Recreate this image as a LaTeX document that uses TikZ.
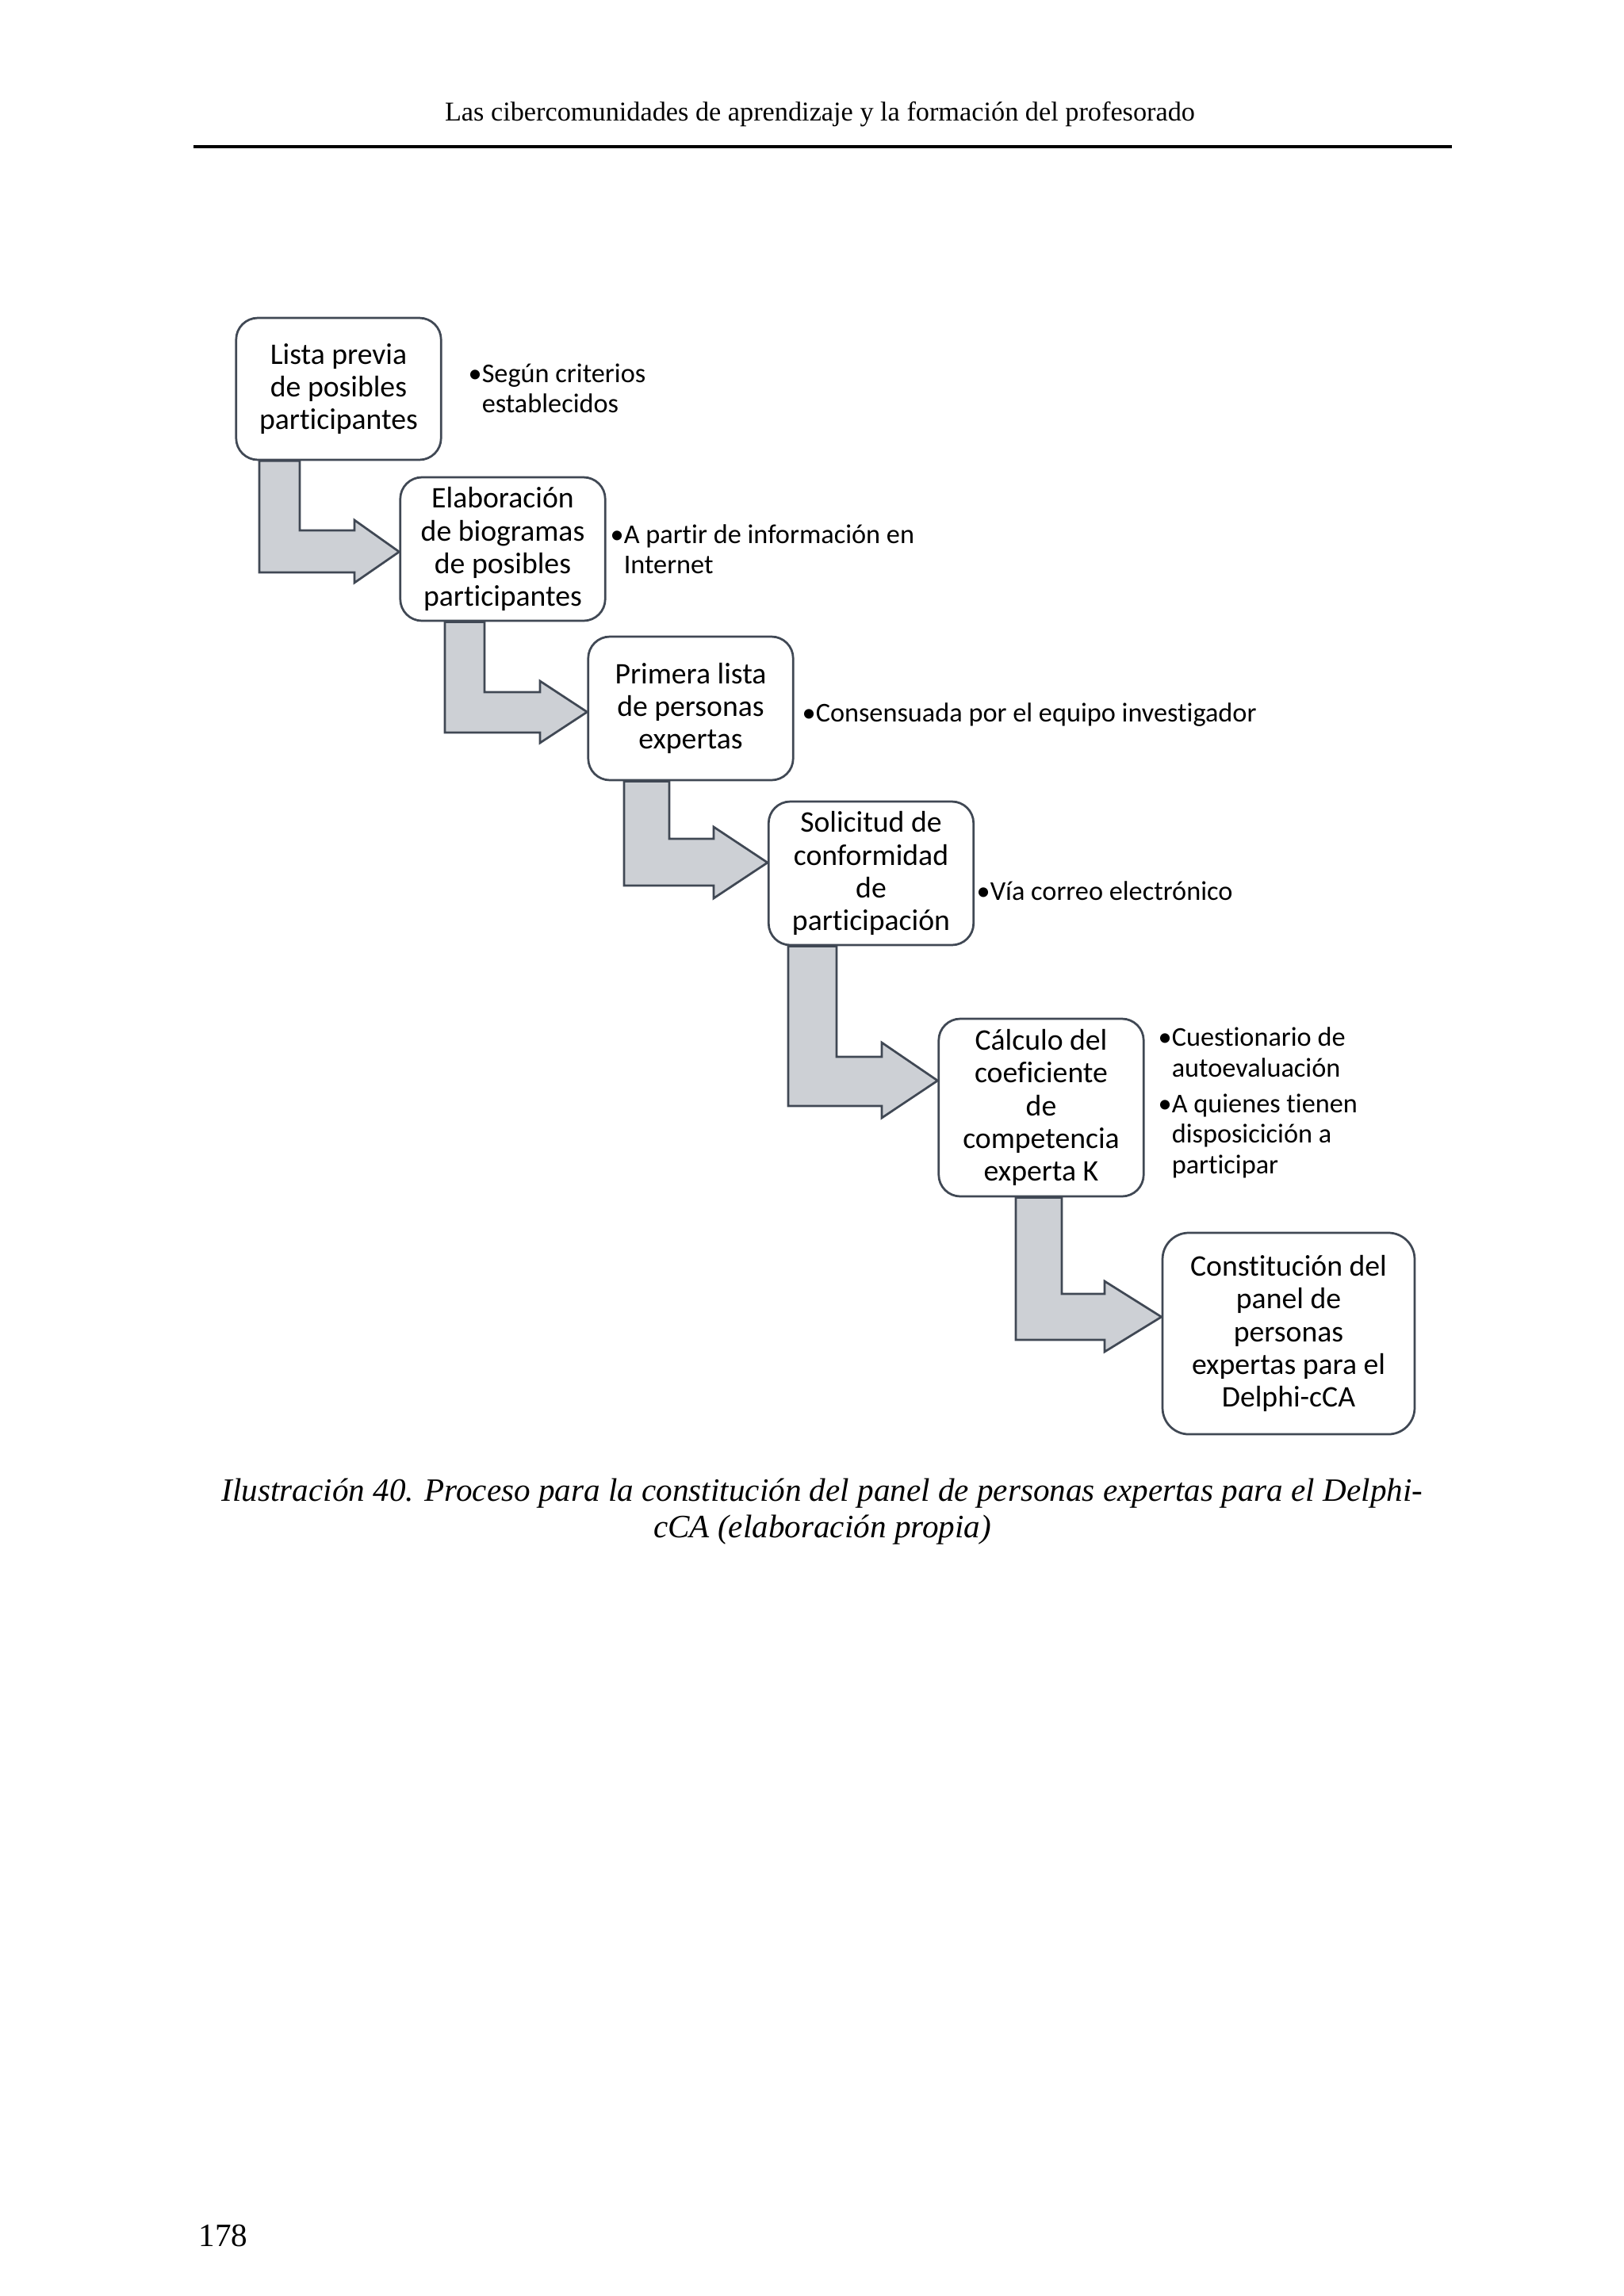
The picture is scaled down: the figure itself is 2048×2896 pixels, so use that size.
\documentclass[tikz,border=0pt]{standalone}
\usepackage{fontspec}
\setmainfont{Liberation Serif}
\newfontfamily\carlito[Ligatures=NoCommon]{Carlito}
\usetikzlibrary{backgrounds}
\definecolor{borde}{HTML}{404854}
\definecolor{relleno}{HTML}{CDD0D5}

\begin{document}
\begin{tikzpicture}[x=0.010254cm,y=-0.010254cm,
  caja/.style={draw=borde,line width=0.8pt,fill=white,rounded corners=0.28cm,
    align=center,inner sep=0pt,minimum width=2.65cm,
    font=\carlito\fontsize{11}{12}\selectfont},
  nota/.style={anchor=west,align=left,inner sep=0pt,
    font=\carlito\fontsize{10}{11.2}\selectfont},
  flecha/.style={draw=borde,line width=0.8pt,fill=relleno,line join=miter}]
\useasboundingbox (0,0) rectangle (2048,2896);

\node[anchor=base,font=\fontsize{10}{12}\selectfont] (cabecera) at (1034,152)
  {Las cibercomunidades de aprendizaje y la formación del profesorado};
\draw[line width=0.9pt] (244,185) -- (1831,185);

\node[caja,minimum height=1.835cm] (b1) at (427,490.5) {Lista previa\\de posibles\\participantes};
\node[caja,minimum height=1.856cm] (b2) at (634,692.5) {Elaboración\\de biogramas\\de posibles\\participantes};
\node[caja,minimum height=1.856cm] (b3) at (871,893.5) {Primera lista\\de personas\\expertas};
\node[caja,minimum height=1.856cm] (b4) at (1098.5,1101.5) {Solicitud de\\conformidad\\de\\participación};
\node[caja,minimum height=2.297cm] (b5) at (1313,1397) {Cálculo del\\coeficiente\\de\\competencia\\experta K};
\node[caja,minimum height=2.605cm,minimum width=3.26cm,rounded corners=0.34cm] (b6) at (1625,1682)
  {Constitución del\\panel de\\personas\\expertas para el\\Delphi-cCA};

\node[nota] (n1) at (590,490) {•Según criterios\\\hphantom{•}establecidos};
\node[nota] (n2) at (769,693) {•A partir de información en\\\hphantom{•}Internet};
\node[nota] (n3) at (1011,902) {•Consensuada por el equipo investigador};
\node[nota] (n4) at (1231,1124) {•Vía correo electrónico};
\node[nota] (n5) at (1460,1391) {•Cuestionario de\\\hphantom{•}autoevaluación\\[2pt]
  •A quienes tienen\\\hphantom{•}disposicición a\\\hphantom{•}participar};

\begin{scope}[on background layer]
\draw[flecha]
(b1.south -| 327,0) -- (327,722) -- (447,722) -- (447,735) -- (b2.west |- 0,696)
  -- (447,656) -- (447,669) -- (378,669) -- (b1.south -| 378,0) -- cycle
(b2.south -| 561,0) -- (561,924) -- (681,924) -- (681,937) -- (b3.west |- 0,898)
  -- (681,859) -- (681,873) -- (611,873) -- (b2.south -| 611,0) -- cycle
(b3.south -| 787,0) -- (787,1117) -- (900,1117) -- (900,1133) -- (b4.west |- 0,1088)
  -- (900,1043) -- (900,1058) -- (844,1058) -- (b3.south -| 844,0) -- cycle
(b4.south -| 994,0) -- (994,1395) -- (1112,1395) -- (1112,1410) -- (b5.west |- 0,1363)
  -- (1112,1315) -- (1112,1333) -- (1055,1333) -- (b4.south -| 1055,0) -- cycle
%the last head sits above the middle of the box
(b5.south -| 1281,0) -- (1281,1690) -- (1393,1690) -- (1393,1705) -- (b6.west |- 0,1661)
  -- (1393,1616) -- (1393,1632) -- (1339,1632) -- (b5.south -| 1339,0) -- cycle;
\end{scope}

\node[align=center,font=\itshape\fontsize{12}{13.4}\selectfont] (pie) at (1037,1907)
  {Ilustración 40. Proceso para la constitución del panel de personas expertas para el Delphi-\\cCA (elaboración propia)};
\node[anchor=base west,inner sep=0pt,font=\fontsize{12}{14}\selectfont] (pagina) at (250,2833) {178};
\end{tikzpicture}
\end{document}
